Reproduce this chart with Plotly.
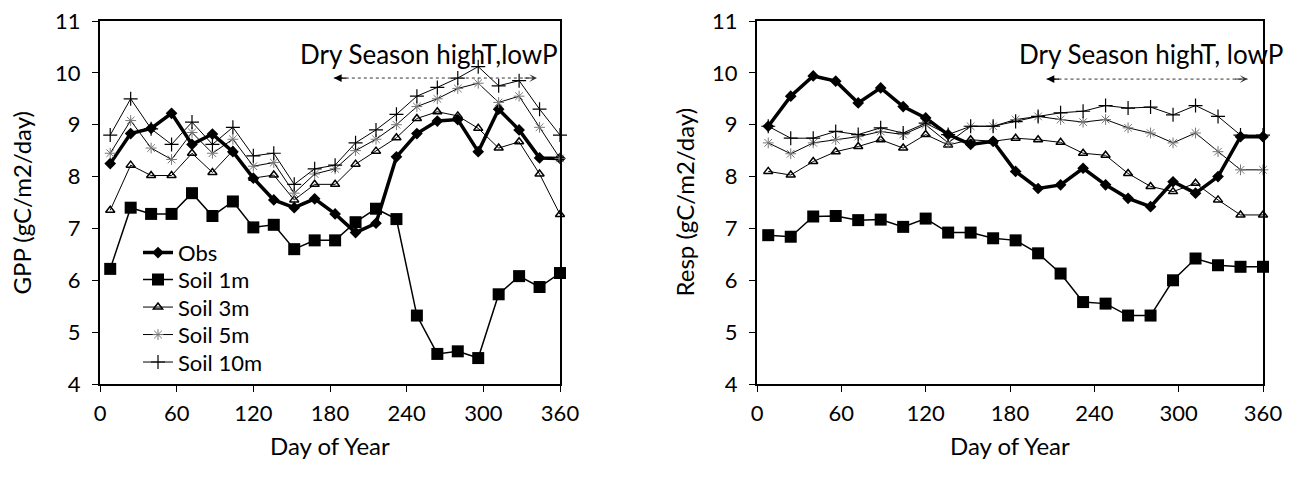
import plotly.graph_objects as go

days = [8, 24, 40, 56, 72, 88, 104, 120, 136, 152, 168, 184, 200, 216, 232, 248, 264, 280, 296, 312, 328, 344, 360]
x_ticks = [0, 60, 120, 180, 240, 300, 360]
y_ticks = [4, 5, 6, 7, 8, 9, 10, 11]

gpp_obs = [8.25, 8.83, 8.93, 9.22, 8.62, 8.82, 8.48, 7.97, 7.55, 7.40, 7.57, 7.28, 6.92, 7.10, 8.38, 8.83, 9.07, 9.10, 8.48, 9.30, 8.90, 8.36, 8.35]
gpp_1m = [6.22, 7.40, 7.28, 7.28, 7.68, 7.24, 7.52, 7.02, 7.07, 6.60, 6.77, 6.77, 7.12, 7.38, 7.18, 5.32, 4.58, 4.63, 4.50, 5.73, 6.08, 5.87, 6.14]
gpp_3m = [7.35, 8.22, 8.02, 8.02, 8.45, 8.08, 8.50, 7.97, 8.03, 7.55, 7.85, 7.85, 8.24, 8.49, 8.75, 9.12, 9.25, 9.17, 8.93, 8.55, 8.67, 8.05, 7.27]
gpp_5m = [8.45, 9.08, 8.55, 8.33, 8.85, 8.45, 8.72, 8.20, 8.27, 7.68, 8.05, 8.15, 8.50, 8.72, 9.00, 9.35, 9.50, 9.70, 9.80, 9.43, 9.55, 8.95, 8.35]
gpp_10m = [8.80, 9.50, 8.92, 8.62, 9.05, 8.62, 8.95, 8.40, 8.45, 7.85, 8.15, 8.22, 8.65, 8.90, 9.20, 9.55, 9.72, 9.90, 10.12, 9.75, 9.85, 9.30, 8.80]

resp_obs = [8.97, 9.55, 9.94, 9.84, 9.42, 9.71, 9.35, 9.13, 8.81, 8.62, 8.68, 8.10, 7.77, 7.84, 8.16, 7.84, 7.58, 7.42, 7.90, 7.68, 8.00, 8.77, 8.77]
resp_1m = [6.87, 6.84, 7.23, 7.24, 7.16, 7.17, 7.03, 7.19, 6.92, 6.92, 6.81, 6.77, 6.52, 6.13, 5.58, 5.55, 5.32, 5.32, 6.00, 6.42, 6.29, 6.26, 6.26]
resp_3m = [8.10, 8.03, 8.29, 8.48, 8.58, 8.71, 8.55, 8.81, 8.61, 8.71, 8.68, 8.74, 8.71, 8.66, 8.45, 8.41, 8.06, 7.81, 7.71, 7.87, 7.55, 7.26, 7.26]
resp_5m = [8.65, 8.44, 8.65, 8.71, 8.77, 8.87, 8.81, 9.00, 8.65, 8.97, 8.97, 9.10, 9.16, 9.10, 9.05, 9.10, 8.94, 8.84, 8.65, 8.84, 8.48, 8.13, 8.13]
resp_10m = [8.97, 8.74, 8.74, 8.87, 8.81, 8.94, 8.84, 9.03, 8.81, 8.97, 8.97, 9.06, 9.16, 9.23, 9.26, 9.37, 9.32, 9.34, 9.19, 9.37, 9.16, 8.80, 8.80]

series_names = ["Obs", "Soil 1m", "Soil 3m", "Soil 5m", "Soil 10m"]
legend_rows = [6.53, 6.01, 5.48, 4.95, 4.42]   # legend row levels, in GPP units
arrow_left = [183, 342, 9.9]
arrow_right = [206, 349, 9.88]

FONT = "Lato"
OFF = 8                     # default body margin of the page
W, H = 1305 - 2 * OFF, 497 - 2 * OFF

def px_x(p):
    return (p - OFF) / W

def px_y(p):
    return 1 - (p - OFF) / H

LX = [px_x(100), px_x(560)]
RX = [px_x(757), px_x(1263)]
YD = [px_y(384), px_y(21)]

styles = [
    dict(line=dict(color="black", width=3.5), marker=dict(symbol="diamond", size=9, color="black")),
    dict(line=dict(color="black", width=1.5), marker=dict(symbol="square", size=12, color="black")),
    dict(line=dict(color="black", width=1), marker=dict(symbol="triangle-up-open", size=8, color="black", line=dict(width=1.5))),
    dict(line=dict(color="black", width=1), marker=dict(symbol="asterisk-open", size=9, color="#777", line=dict(width=1))),
    dict(line=dict(color="black", width=1), marker=dict(symbol="cross-thin-open", size=10, color="black", line=dict(width=1.2))),
]

fig = go.Figure()
left = [gpp_obs, gpp_1m, gpp_3m, gpp_5m, gpp_10m]
right = [resp_obs, resp_1m, resp_3m, resp_5m, resp_10m]
legend_ids = ["legend", "legend2", "legend3", "legend4", "legend5"]
for name, vals, st, lid in zip(series_names, left, styles, legend_ids):
    fig.add_trace(go.Scatter(x=days, y=vals, name=name, mode="lines+markers", legend=lid,
                             xaxis="x", yaxis="y", showlegend=True, cliponaxis=False, **st))
for name, vals, st in zip(series_names, right, styles):
    fig.add_trace(go.Scatter(x=days, y=vals, name=name, mode="lines+markers",
                             xaxis="x2", yaxis="y2", showlegend=False, cliponaxis=False, **st))

axis_common = dict(showline=True, linecolor="black", linewidth=2, mirror=True,
                   ticks="outside", ticklen=6, tickwidth=1, tickcolor="black",
                   showgrid=False, zeroline=False, ticklabeloverflow="allow",
                   automargin=False,
                   tickfont=dict(family=FONT, size=22, color="black"))

xcommon = dict(axis_common, range=[0, 360], tickvals=x_ticks, ticklabelstandoff=3)
ycommon = dict(axis_common, range=[4, 11], tickvals=y_ticks, ticklabelstandoff=7)

def yval_to_paper(v):
    return YD[0] + (v - 4) / 7 * (YD[1] - YD[0])

legends = {}
for lid, row in zip(legend_ids, legend_rows):
    legends[lid] = dict(x=px_x(138), y=yval_to_paper(row), xanchor="left", yanchor="middle",
                        bgcolor="rgba(0,0,0,0)", font=dict(family=FONT, size=22),
                        itemwidth=30, tracegroupgap=0)

fig.update_layout(
    width=W, height=H,
    margin=dict(l=0, r=0, t=0, b=0, autoexpand=False),
    paper_bgcolor="white", plot_bgcolor="white",
    font=dict(family=FONT, size=20, color="black"),
    xaxis=dict(xcommon, domain=LX, anchor="y"),
    yaxis=dict(ycommon, domain=YD, anchor="x"),
    xaxis2=dict(xcommon, domain=RX, anchor="y2"),
    yaxis2=dict(ycommon, domain=YD, anchor="x2"),
    showlegend=True,
    **legends,
)

ann = []
def label(text, x, y, size, angle=0, xanchor="center", yanchor="middle"):
    ann.append(dict(text=text, xref="paper", yref="paper", x=x, y=y,
                    xanchor=xanchor, yanchor=yanchor, textangle=angle,
                    showarrow=False, font=dict(size=size)))

ymid = (YD[0] + YD[1]) / 2
label("GPP (gC/m2/day)", LX[0] - 79 / W, ymid, 24, angle=-90)
label("Resp (gC/m2/day)", RX[0] - 73 / W, ymid, 24, angle=-90)
label("Day of Year", (LX[0] + LX[1]) / 2, YD[0] - 61 / H, 24)
label("Day of Year", (RX[0] + RX[1]) / 2, YD[0] - 61 / H, 24)
label("Dry Season highT,lowP", LX[1], yval_to_paper(10.37), 26, xanchor="right")
label("Dry Season highT, lowP", px_x(1285), yval_to_paper(10.37), 26, xanchor="right")

for (xa, xb, yv), xr, yr in [(arrow_left, "x", "y"), (arrow_right, "x2", "y2")]:
    fig.add_shape(type="line", xref=xr, yref=yr, x0=xa, x1=xb, y0=yv, y1=yv,
                  line=dict(color="#333", width=1, dash="dot"))
    ann.append(dict(x=xa, y=yv, xref=xr, yref=yr, ax=14, ay=0, showarrow=True,
                    arrowhead=2, arrowsize=1.3, arrowwidth=1.2, arrowcolor="black", text=""))
    ann.append(dict(x=xb, y=yv, xref=xr, yref=yr, ax=-14, ay=0, showarrow=True,
                    arrowhead=3, arrowsize=1.3, arrowwidth=1, arrowcolor="#333", text=""))
fig.update_layout(annotations=ann)

fig.write_html("out.html")
